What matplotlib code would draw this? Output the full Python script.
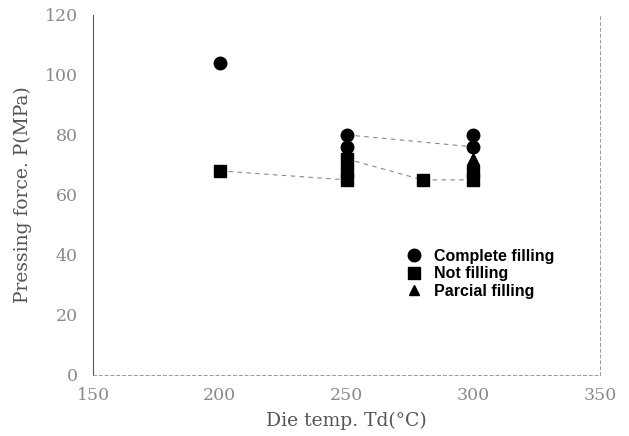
import matplotlib
matplotlib.use("Agg")
import matplotlib.pyplot as plt
from matplotlib.lines import Line2D

# data
complete_x = [200, 250, 250, 300, 300]
complete_y = [104, 80, 76, 80, 76]
not_x = [200, 250, 250, 250, 280, 300, 300]
not_y = [68, 72, 68, 65, 65, 68, 65]
partial_x = [300]
partial_y = [72]

# dashed connecting lines
line_a_x, line_a_y = [250, 300], [80, 76]
line_b_x, line_b_y = [200, 250], [68, 65]
line_c_x, line_c_y = [250, 280, 300], [72, 65, 65]

xticks = [150, 200, 250, 300, 350]
yticks = [0, 20, 40, 60, 80, 100, 120]

fig = plt.figure(figsize=(6.29, 4.36), dpi=100)
ax = fig.add_axes([0.148, 0.140, 0.806, 0.826])

for lx, ly in [(line_a_x, line_a_y), (line_b_x, line_b_y), (line_c_x, line_c_y)]:
    ax.plot(lx, ly, ls=(0, (4, 4)), color="#888888", lw=0.8, zorder=1)

ax.plot(complete_x, complete_y, "o", color="black", ms=9, zorder=3)
ax.plot(not_x, not_y, "s", color="black", ms=8.5, zorder=3)
ax.plot(partial_x, partial_y, "^", color="black", ms=8, zorder=3)

ax.set_xlim(150, 350)
ax.set_ylim(0, 120)
ax.set_xticks(xticks)
ax.set_yticks(yticks)
ax.tick_params(length=0, labelsize=12.5, labelcolor="#8a8a8a")
ax.tick_params(axis="y", pad=11)
ax.tick_params(axis="x", pad=9)
for lab in ax.get_xticklabels() + ax.get_yticklabels():
    lab.set_family("DejaVu Serif")

ax.spines["top"].set_visible(False)
ax.spines["left"].set_color("#555555")
ax.spines["left"].set_linewidth(0.8)
ax.spines["bottom"].set_color("#999999")
ax.spines["bottom"].set_linestyle((0, (3, 3)))
ax.spines["bottom"].set_linewidth(0.7)
ax.spines["right"].set_color("#999999")
ax.spines["right"].set_linestyle((0, (3, 3)))
ax.spines["right"].set_linewidth(0.7)

ax.set_xlabel("Die temp. Td(\u00b0C)", family="DejaVu Serif", fontsize=13.5,
              color="#555555", labelpad=5)
ax.set_ylabel("Pressing force. P(MPa)", family="DejaVu Serif", fontsize=13.5,
              color="#555555", labelpad=9)

handles = [
    Line2D([], [], marker="o", ls="", color="black", ms=9),
    Line2D([], [], marker="s", ls="", color="black", ms=8),
    Line2D([], [], marker="^", ls="", color="black", ms=7),
]
ax.legend(handles, ["Complete filling", "Not filling", "Parcial filling"],
          loc="upper left", bbox_to_anchor=(0.585, 0.39), frameon=False,
          prop={"family": "Liberation Sans", "size": 11.5, "weight": "bold"},
          handletextpad=0.7, labelspacing=0.15, handlelength=1.2)

fig.savefig("out.png", dpi=100)
